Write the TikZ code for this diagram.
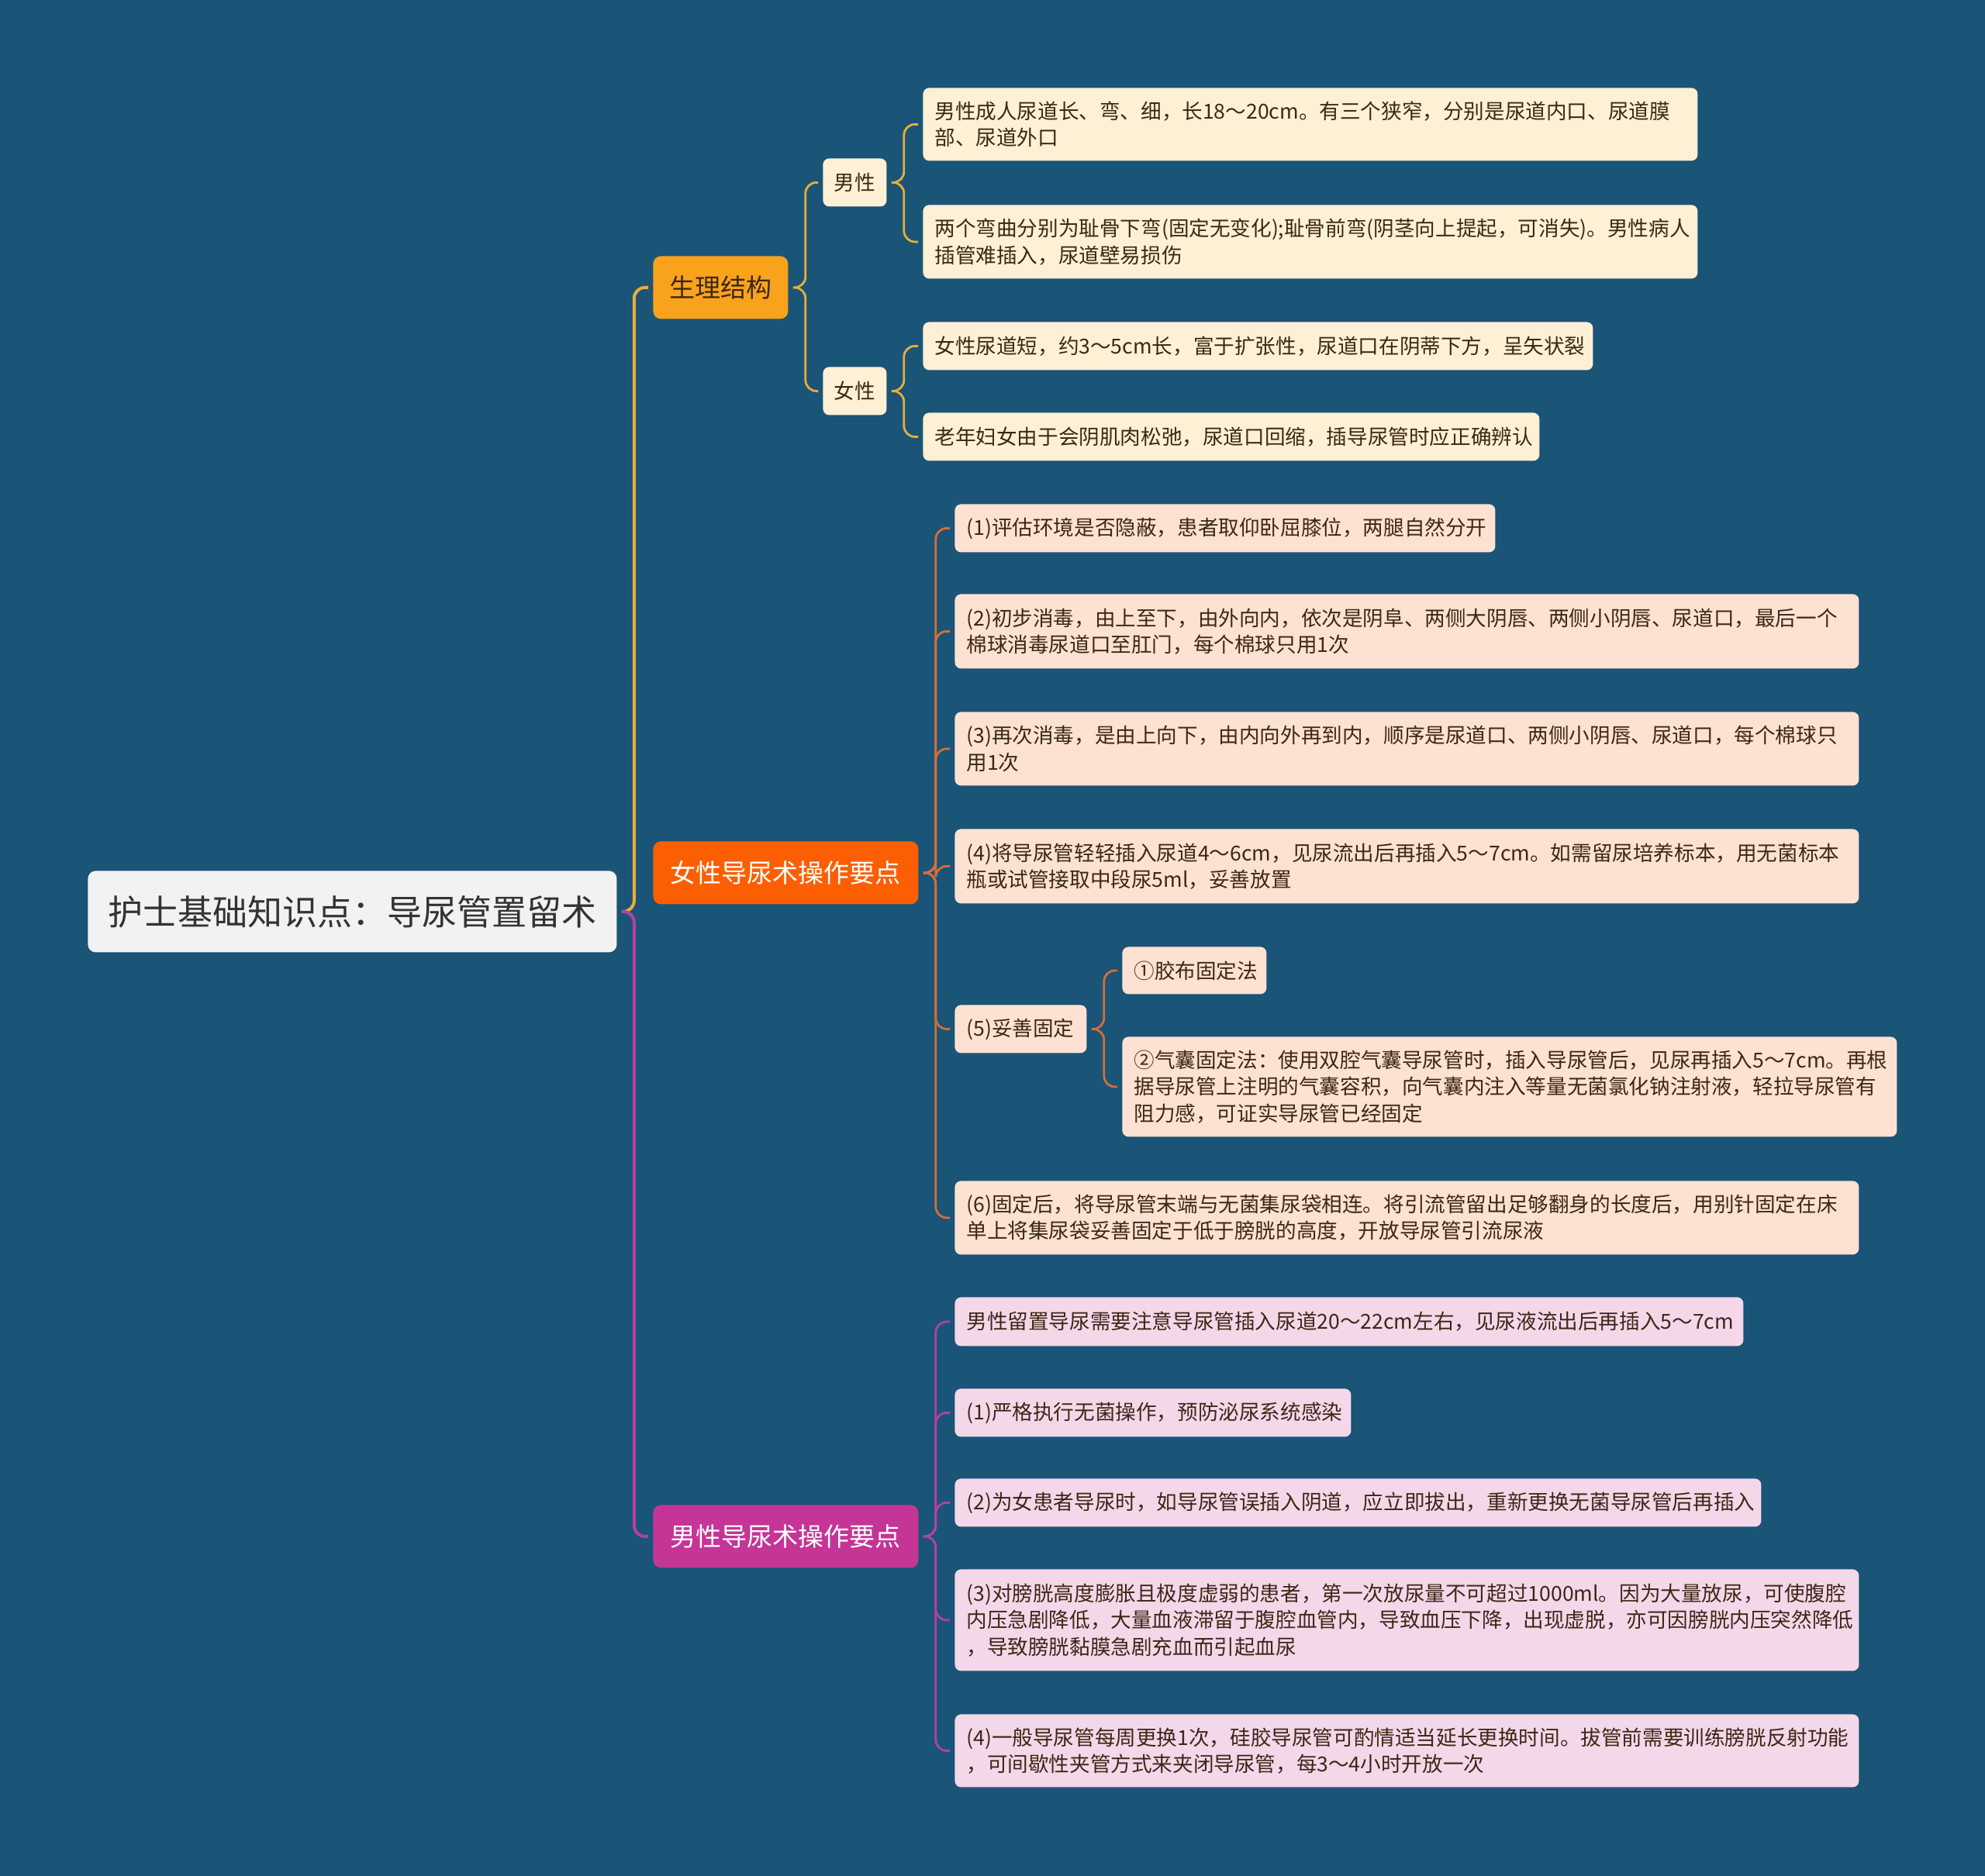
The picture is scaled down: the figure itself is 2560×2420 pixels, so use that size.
\documentclass[tikz,border=0pt]{standalone}
\usepackage{fontspec}
\setmainfont{Noto Sans CJK SC}
\usetikzlibrary{calc}
\definecolor{bgblue}{HTML}{1A5477}
\definecolor{rootgray}{HTML}{F2F2F2}
\definecolor{rootink}{HTML}{333333}
\definecolor{ink}{HTML}{3B2815}
\definecolor{physfill}{HTML}{F9A21C}
\definecolor{femfill}{HTML}{FC5F03}
\definecolor{malefill}{HTML}{C53596}
\definecolor{cream}{HTML}{FDF0D5}
\definecolor{peach}{HTML}{FDE1D3}
\definecolor{pink}{HTML}{F5D7EA}
\definecolor{physline}{HTML}{E9AE3A}
\definecolor{femline}{HTML}{D46F38}
\definecolor{maleline}{HTML}{B4429E}
\tikzset{
  rootbox/.style  = {fill=rootgray, text=rootink, rounded corners=5pt,
                     minimum width=341pt, minimum height=52.5pt, inner sep=0pt,
                     font=\fontsize{22.5}{27}\selectfont, anchor=north west},
  mainbox/.style  = {rounded corners=5pt, minimum height=40.5pt, inner sep=0pt,
                     font=\fontsize{16.5}{20}\selectfont, anchor=north west},
  midbox/.style   = {fill=cream, text=ink, rounded corners=4pt, minimum width=41pt,
                     minimum height=31pt, inner sep=0pt,
                     font=\fontsize{13.3}{17}\selectfont, anchor=north west},
  leaf/.style     = {rounded corners=4pt, inner xsep=7.5pt, inner ysep=0pt,
                     align=left, text=ink, font=\fontsize{13.3}{17.2}\selectfont,
                     anchor=north west},
  link/.style     = {line width=1.4pt, rounded corners=7pt},
}
\newcommand{\linkto}[3]{\draw[link,#1] ($(#2.east)+(6,0)$) -- ($(#2.east)+(22,0)$)
  |- ($(#3.west)+(-6,0)$);}

\begin{document}
\begin{tikzpicture}[x=0.5pt, y=-0.5pt]
  \fill[bgblue] (0,0) rectangle (2560,2420);
  \useasboundingbox (0,0) rectangle (2560,2420);
  % root and main branches
  \node[rootbox] (root) at (113,1123) {护士基础知识点：导尿管置留术};
  \node[mainbox, fill=physfill, text=ink, minimum width=87pt] (phys) at (842,330) {生理结构};
  \node[mainbox, fill=femfill, text=white, minimum width=171pt] (femop) at (842,1085) {女性导尿术操作要点};
  \node[mainbox, fill=malefill, text=white, minimum width=171pt] (maleop) at (842,1941) {男性导尿术操作要点};
  \linkto{physline, line width=2pt}{root}{phys}
  \linkto{maleline, line width=2pt}{root}{maleop}
  % 生理结构
  \node[midbox] (male) at (1061,204) {男性};
  \node[midbox] (female) at (1061,473) {女性};
  \node[leaf, fill=cream, text width=484.5pt, minimum height=47pt] (m1) at (1190,113)
    {男性成人尿道长、弯、细，长18～20cm。有三个狭窄，分别是尿道内口、尿道膜\\部、尿道外口};
  \node[leaf, fill=cream, text width=484.5pt, minimum height=47.5pt] (m2) at (1190,264)
    {两个弯曲分别为耻骨下弯(固定无变化);耻骨前弯(阴茎向上提起，可消失)。男性病人\\插管难插入，尿道壁易损伤};
  \node[leaf, fill=cream, text width=417pt, minimum height=31pt] (f1) at (1190,415)
    {女性尿道短，约3～5cm长，富于扩张性，尿道口在阴蒂下方，呈矢状裂};
  \node[leaf, fill=cream, text width=382.5pt, minimum height=31pt] (f2) at (1190,532)
    {老年妇女由于会阴肌肉松弛，尿道口回缩，插导尿管时应正确辨认};
  \linkto{physline}{phys}{male}
  \linkto{physline}{phys}{female}
  \linkto{physline}{male}{m1}
  \linkto{physline}{male}{m2}
  \linkto{physline}{female}{f1}
  \linkto{physline}{female}{f2}
  % 女性导尿术操作要点
  \node[leaf, fill=peach, text width=333.5pt, minimum height=31pt] (o1) at (1231,650)
    {(1)评估环境是否隐蔽，患者取仰卧屈膝位，两腿自然分开};
  \node[leaf, fill=peach, text width=568pt, minimum height=48pt] (o2) at (1231,766)
    {(2)初步消毒，由上至下，由外向内，依次是阴阜、两侧大阴唇、两侧小阴唇、尿道口，最后一个\\棉球消毒尿道口至肛门，每个棉球只用1次};
  \node[leaf, fill=peach, text width=568pt, minimum height=47.5pt] (o3) at (1231,918)
    {(3)再次消毒，是由上向下，由内向外再到内，顺序是尿道口、两侧小阴唇、尿道口，每个棉球只\\用1次};
  \node[leaf, fill=peach, text width=568pt, minimum height=48pt] (o4) at (1231,1069)
    {(4)将导尿管轻轻插入尿道4～6cm，见尿流出后再插入5～7cm。如需留尿培养标本，用无菌标本\\瓶或试管接取中段尿5ml，妥善放置};
  \node[leaf, fill=peach, text width=70pt, minimum height=31pt] (o5) at (1231,1296)
    {(5)妥善固定};
  \node[leaf, fill=peach, text width=78pt, minimum height=30.5pt] (s1) at (1447,1221)
    {①胶布固定法};
  \node[leaf, fill=peach, text width=484.5pt, minimum height=64.5pt] (s2) at (1447,1337)
    {②气囊固定法：使用双腔气囊导尿管时，插入导尿管后，见尿再插入5～7cm。再根\\据导尿管上注明的气囊容积，向气囊内注入等量无菌氯化钠注射液，轻拉导尿管有\\阻力感，可证实导尿管已经固定};
  \node[leaf, fill=peach, text width=568pt, minimum height=47.5pt] (o6) at (1231,1523)
    {(6)固定后，将导尿管末端与无菌集尿袋相连。将引流管留出足够翻身的长度后，用别针固定在床\\单上将集尿袋妥善固定于低于膀胱的高度，开放导尿管引流尿液};
  \foreach \k in {o1,o2,o3,o4,o5,o6}{\linkto{femline}{femop}{\k}}
  \linkto{femline}{o5}{s1}
  \linkto{femline}{o5}{s2}
  % 男性导尿术操作要点
  \node[leaf, fill=pink, text width=493.5pt, minimum height=31.5pt] (p0) at (1231,1673)
    {男性留置导尿需要注意导尿管插入尿道20～22cm左右，见尿液流出后再插入5～7cm};
  \node[leaf, fill=pink, text width=240.5pt, minimum height=31pt] (p1) at (1231,1791)
    {(1)严格执行无菌操作，预防泌尿系统感染};
  \node[leaf, fill=pink, text width=505pt, minimum height=31pt] (p2) at (1231,1907)
    {(2)为女患者导尿时，如导尿管误插入阴道，应立即拔出，重新更换无菌导尿管后再插入};
  \node[leaf, fill=pink, text width=568pt, minimum height=65.5pt] (p3) at (1231,2024)
    {(3)对膀胱高度膨胀且极度虚弱的患者，第一次放尿量不可超过1000ml。因为大量放尿，可使腹腔\\内压急剧降低，大量血液滞留于腹腔血管内，导致血压下降，出现虚脱，亦可因膀胱内压突然降低\\，导致膀胱黏膜急剧充血而引起血尿};
  \node[leaf, fill=pink, text width=568pt, minimum height=47pt] (p4) at (1231,2211)
    {(4)一般导尿管每周更换1次，硅胶导尿管可酌情适当延长更换时间。拔管前需要训练膀胱反射功能\\，可间歇性夹管方式来夹闭导尿管，每3～4小时开放一次};
  \foreach \k in {p0,p1,p2,p3,p4}{\linkto{maleline}{maleop}{\k}}
\end{tikzpicture}
\end{document}
